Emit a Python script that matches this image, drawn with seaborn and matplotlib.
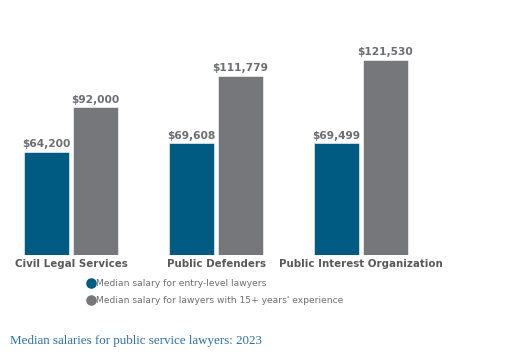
import matplotlib
matplotlib.use("Agg")
import matplotlib.pyplot as plt
from matplotlib.lines import Line2D
import seaborn as sns
import pandas as pd

categories = ["Civil Legal Services", "Public Defenders", "Public Interest Organization"]
series_names = ["Median salary for entry-level lawyers",
                "Median salary for lawyers with 15+ years' experience"]
entry_level = [64200, 69608, 69499]
experienced = [92000, 111779, 121530]
title_text = "Median salaries for public service lawyers: 2023"

colors = ["#005B82", "#76777B"]
text_grey = "#6D6E71"

df = pd.DataFrame({
    "category": categories * 2,
    "series": [series_names[0]] * 3 + [series_names[1]] * 3,
    "value": entry_level + experienced,
})

sns.set_theme(style="white")
plt.rcParams["font.family"] = ["DejaVu Sans"]

fig = plt.figure(figsize=(5.24, 3.61), dpi=100)
ax = fig.add_axes([0, 106 / 361, 1, 255 / 361])

sns.barplot(data=df, x="category", y="value", hue="series", hue_order=series_names,
            palette=colors, width=0.676, gap=0.08, ax=ax, legend=False,
            edgecolor="white", linewidth=0.4, saturation=1)

for cont in ax.containers:
    ax.bar_label(cont, labels=[f"${v:,.0f}" for v in cont.datavalues], padding=2,
                 fontsize=7.7, fontweight="bold", color=text_grey)

ax.set_xlim(-71 / 145, (524 - 71) / 145)
ax.set_ylim(0, 158900)
ax.set_xlabel("")
ax.set_ylabel("")
ax.set_yticks([])
ax.tick_params(axis="x", length=0, pad=3)
for lbl in ax.get_xticklabels():
    lbl.set_fontweight("bold")
    lbl.set_fontsize(7.4)
    lbl.set_color("#58595B")
for s in ax.spines.values():
    s.set_visible(False)
ax.patch.set_alpha(0)

handles = [Line2D([0], [0], marker="o", linestyle="", markersize=6.6,
                  markerfacecolor=c, markeredgecolor=c) for c in colors]
fig.legend(handles, series_names, loc="upper left", bbox_to_anchor=(86 / 524, 1 - 279 / 361),
           frameon=False, fontsize=6.6, labelcolor=text_grey, handletextpad=0.1,
           handlelength=1.0, labelspacing=0.85, borderpad=0, borderaxespad=0)

fig.text(10 / 524, 1 - 341 / 361, title_text, family="Liberation Serif", fontsize=9.4,
         color="#2A6FAE", va="center", ha="left")

fig.savefig("out.png", dpi=100)
